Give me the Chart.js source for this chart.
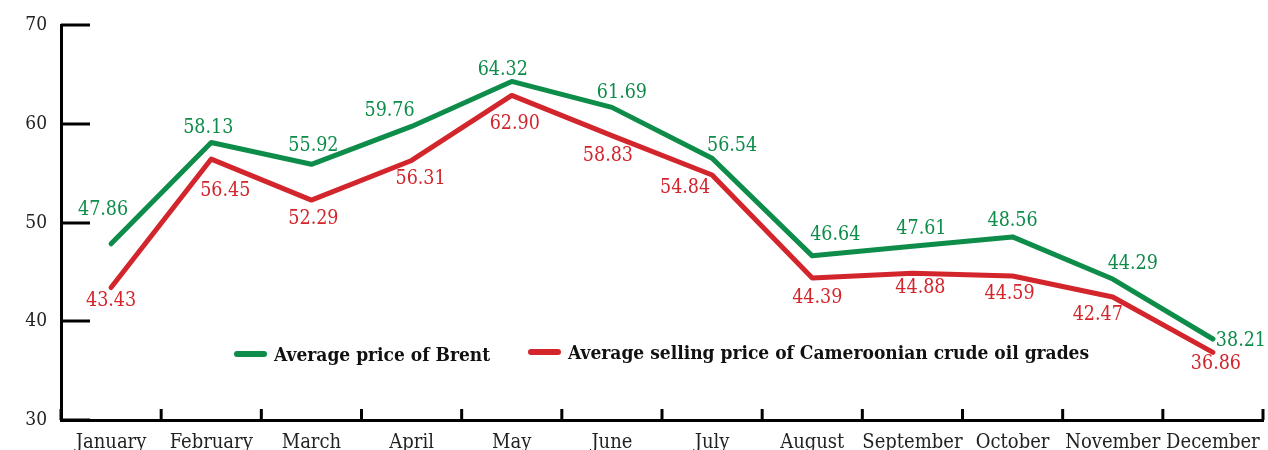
<!DOCTYPE html>
<html>
<head>
<meta charset="utf-8">
<script src="https://cdn.jsdelivr.net/npm/chart.js@4.4.1/dist/chart.umd.min.js"></script>
<style>
  html, body { margin: 0; padding: 0; background: #fff; }
  #wrap { width: 1268px; height: 450px; }
</style>
</head>
<body>
<div id="wrap"><canvas id="oilChart" width="1268" height="450"></canvas></div>
<script>
const months = ['January', 'February', 'March', 'April', 'May', 'June', 'July', 'August', 'September', 'October', 'November', 'December'];
const brentPrice = [47.86, 58.13, 55.92, 59.76, 64.32, 61.69, 56.54, 46.64, 47.61, 48.56, 44.29, 38.21];
const cameroonPrice = [43.43, 56.45, 52.29, 56.31, 62.90, 58.83, 54.84, 44.39, 44.88, 44.59, 42.47, 36.86];
const yTicks = [30, 40, 50, 60, 70];

const GREEN = '#0e8c4a';
const RED = '#d3252c';
const FONT = '"DejaVu Serif Condensed", "DejaVu Serif", serif';

// where each value label sits relative to its point (dx, dy)
const brentLabelPos = [[-8,-34],[-3,-15],[2,-18],[-22,-15],[-9,-11],[10,-14],[20,-12],[23,-21],[9,-17],[0,-16],[20,-15],[28,2]];
const cameroonLabelPos = [[0,13],[14,32],[2,19],[9,18],[3,28],[-4,20],[-27,13],[5,20],[8,15],[-3,18],[-15,18],[3,12]];

Chart.defaults.font.family = FONT;
Chart.defaults.color = '#222';

const valueLabels = {
  id: 'valueLabels',
  afterDatasetsDraw(chart) {
    const ctx = chart.ctx;
    ctx.save();
    ctx.font = '19.5px ' + FONT;
    ctx.textAlign = 'center';
    ctx.textBaseline = 'middle';
    chart.data.datasets.forEach((ds, i) => {
      const meta = chart.getDatasetMeta(i);
      const offs = ds.labelPos;
      ctx.fillStyle = ds.borderColor;
      meta.data.forEach((pt, j) => {
        ctx.fillText(ds.data[j].toFixed(2), pt.x + offs[j][0], pt.y + offs[j][1]);
      });
    });
    ctx.restore();
  }
};

const axisMarks = {
  id: 'axisMarks',
  afterDraw(chart) {
    const ctx = chart.ctx;
    const y = chart.scales.y;
    const area = chart.chartArea;
    ctx.save();
    ctx.strokeStyle = '#000';
    ctx.lineWidth = 3;
    ctx.lineCap = 'butt';
    // y ticks pointing inward
    yTicks.forEach(v => {
      const py = Math.round(y.getPixelForValue(v));
      ctx.beginPath();
      ctx.moveTo(area.left, py);
      ctx.lineTo(area.left + 29, py);
      ctx.stroke();
    });
    // x tick marks between categories
    const step = (area.right - area.left) / months.length;
    for (let i = 0; i <= months.length; i++) {
      const px = area.left + i * step;
      ctx.beginPath();
      ctx.moveTo(px, area.bottom);
      ctx.lineTo(px, area.bottom - 11);
      ctx.stroke();
    }

    // legend inside plot
    const items = [
      { ds: chart.data.datasets[0], x: 237, y: 354 },
      { ds: chart.data.datasets[1], x: 531, y: 352 }
    ];
    ctx.font = 'bold 19px ' + FONT;
    ctx.textBaseline = 'middle';
    ctx.textAlign = 'left';
    items.forEach(it => {
      ctx.strokeStyle = it.ds.borderColor;
      ctx.lineWidth = 6;
      ctx.lineCap = 'round';
      ctx.beginPath();
      ctx.moveTo(it.x, it.y);
      ctx.lineTo(it.x + 27, it.y);
      ctx.stroke();
      ctx.fillStyle = '#111';
      ctx.fillText(it.ds.label, it.x + 37, it.y + 2);
    });
    ctx.restore();
  }
};

new Chart(document.getElementById('oilChart').getContext('2d'), {
  type: 'line',
  data: {
    labels: months,
    datasets: [{
      label: 'Average price of Brent',
      data: brentPrice,
      borderColor: GREEN,
      labelPos: brentLabelPos
    }, {
      label: 'Average selling price of Cameroonian crude oil grades',
      data: cameroonPrice,
      borderColor: RED,
      labelPos: cameroonLabelPos
    }]
  },
  options: {
    responsive: false,
    animation: false,
    layout: { padding: { top: 18, right: 5, left: 0, bottom: 0 } },
    elements: {
      line: { borderWidth: 5, tension: 0, borderCapStyle: 'round', borderJoinStyle: 'round', fill: false },
      point: { radius: 0, hoverRadius: 0 }
    },
    plugins: {
      legend: { display: false },
      tooltip: { enabled: false }
    },
    scales: {
      x: {
        offset: true,
        grid: { display: false, drawTicks: false },
        border: { display: true, color: '#000', width: 3 },
        ticks: { font: { size: 20 }, color: '#222', padding: 11, maxRotation: 0, autoSkip: false },
        afterFit(scale) {
          scale.height = 30;
          scale.paddingLeft = 0;
          scale.paddingRight = 0;
        }
      },
      y: {
        min: 30,
        max: 70,
        grid: { display: false, drawTicks: false },
        border: { display: true, color: '#000', width: 3 },
        ticks: { stepSize: 10, font: { size: 19 }, color: '#222', padding: 14, labelOffset: 0 },
        afterFit(scale) { scale.width = 61; }
      }
    }
  },
  plugins: [valueLabels, axisMarks]
});
</script>
</body>
</html>
